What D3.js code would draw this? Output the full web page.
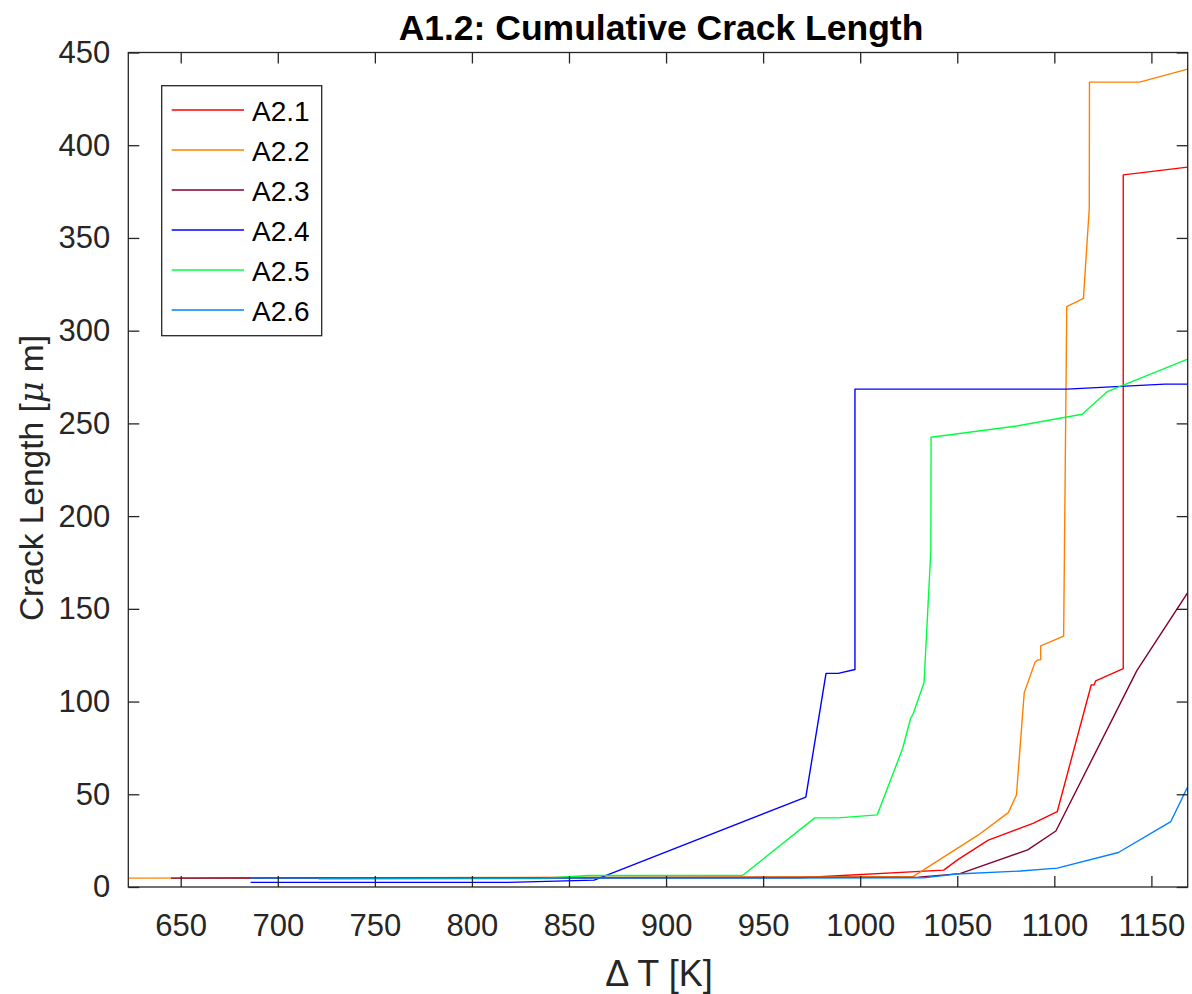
<!DOCTYPE html>
<html>
<head>
<meta charset="utf-8">
<script src="https://cdn.jsdelivr.net/npm/d3@7"></script>
<style>
  html, body { margin: 0; padding: 0; background: #fff; }
  svg { display: block; font-family: "Liberation Sans", Arial, Helvetica, sans-serif; }
</style>
</head>
<body>
<svg id="chart" width="1192" height="994"></svg>
<script>
// ---- data ----
const seriesNames = ["A2.1", "A2.2", "A2.3", "A2.4", "A2.5", "A2.6"];
const seriesColors = ["#ff0000", "#ff8000", "#800033", "#0000ff", "#00ff40", "#0080ff"];

const a21_T = [686, 969, 1043, 1050.5, 1066, 1089, 1101.5, 1119, 1120.5, 1121.3, 1135.5, 1135.5, 1168.7];
const a21_L = [4.8, 5.0, 9.1, 14.9, 25.3, 34.3, 40.6, 108.9, 109, 111.2, 117.8, 384, 388.2];

const a22_T = [623, 1027, 1060.5, 1076.3, 1080.5, 1084.5, 1090, 1091.4, 1093, 1093, 1104.8, 1106.4, 1115, 1118, 1118.1, 1143.9, 1168.7];
const a22_L = [4.8, 5.5, 27.8, 40.1, 49.6, 104.8, 121, 122.4, 122.6, 130, 135.3, 312.9, 317.4, 366, 434, 434, 441];

const a23_T = [645, 1030, 1051.4, 1086.3, 1100.8, 1142.5, 1168.7];
const a23_L = [4.8, 5.3, 7.2, 20, 30.2, 116.7, 158.7];

const a24_T = [686, 818, 863, 972, 982.4, 988.7, 997.3, 997.3, 1106.4, 1157, 1168.7];
const a24_L = [2.5, 2.5, 3.7, 48.5, 115.2, 115.2, 117.3, 268.5, 268.5, 271.2, 271.2];

const a25_T = [721, 835, 860, 939.5, 976.6, 988.5, 1008.8, 1021.9, 1026, 1027.4, 1032.9, 1036.4, 1036.5, 1080.6, 1114.3, 1127.2, 1168.7];
const a25_L = [4.3, 4.6, 6.2, 6.3, 37.3, 37.3, 38.9, 74.8, 91, 93.7, 110.3, 181.7, 242.5, 248.6, 254.9, 267.1, 284.6];

const a26_T = [686, 1032.6, 1049.7, 1082.6, 1101.5, 1133, 1160, 1168.7];
const a26_L = [4.8, 4.9, 7.0, 8.6, 10.2, 18.6, 35.3, 54];

const xTicks = [650, 700, 750, 800, 850, 900, 950, 1000, 1050, 1100, 1150];
const yTicks = [0, 50, 100, 150, 200, 250, 300, 350, 400, 450];
const xDomain = [623, 1168.7];
const yDomain = [0, 450];

const titleText = "A1.2: Cumulative Crack Length";
const xLabelText = "\u0394 T [K]";

// ---- layout ----
const svg = d3.select("#chart");
const plot = { left: 128.3, right: 1187.7, top: 52.5, bottom: 887 };
const axisColor = "#262626";

const x = d3.scaleLinear().domain(xDomain).range([plot.left, plot.right]);
const y = d3.scaleLinear().domain(yDomain).range([plot.bottom, plot.top]);

const allT = [a21_T, a22_T, a23_T, a24_T, a25_T, a26_T];
const allL = [a21_L, a22_L, a23_L, a24_L, a25_L, a26_L];
const series = seriesNames.map((n, i) => ({
  name: n, color: seriesColors[i],
  pts: allT[i].map((t, j) => [t, allL[i][j]])
}));

svg.append("defs").append("clipPath").attr("id", "clip")
  .append("rect")
  .attr("x", plot.left).attr("y", plot.top)
  .attr("width", plot.right - plot.left).attr("height", plot.bottom - plot.top);

// lines
const line = d3.line().x(d => x(d[0])).y(d => y(d[1]));
svg.append("g").attr("clip-path", "url(#clip)")
  .selectAll("path").data(series).join("path")
  .attr("d", d => line(d.pts))
  .attr("fill", "none")
  .attr("stroke", d => d.color)
  .attr("stroke-width", 1.4)
  .attr("stroke-linejoin", "round");

// axes
const tickLen = 11;
const fmt = d3.format("d");
function styleAxis(g) {
  g.select(".domain").remove();
  g.selectAll(".tick line").attr("stroke", axisColor).attr("stroke-width", 1.3);
  g.selectAll(".tick text").attr("fill", axisColor).style("font-size", "31px");
}
svg.append("g").attr("transform", `translate(0,${plot.bottom})`)
  .call(d3.axisBottom(x).tickValues(xTicks).tickFormat(fmt).tickSizeInner(-tickLen).tickSizeOuter(0).tickPadding(27))
  .call(styleAxis);
svg.append("g").attr("transform", `translate(0,${plot.top})`)
  .call(d3.axisTop(x).tickValues(xTicks).tickSizeInner(-tickLen).tickSizeOuter(0).tickFormat(""))
  .call(styleAxis);
svg.append("g").attr("transform", `translate(${plot.left},0)`)
  .call(d3.axisLeft(y).tickValues(yTicks).tickFormat(fmt).tickSizeInner(-tickLen).tickSizeOuter(0).tickPadding(18))
  .call(styleAxis);
svg.append("g").attr("transform", `translate(${plot.right},0)`)
  .call(d3.axisRight(y).tickValues(yTicks).tickSizeInner(-tickLen).tickSizeOuter(0).tickFormat(""))
  .call(styleAxis);

// box
svg.append("rect")
  .attr("x", plot.left).attr("y", plot.top)
  .attr("width", plot.right - plot.left).attr("height", plot.bottom - plot.top)
  .attr("fill", "none").attr("stroke", axisColor).attr("stroke-width", 1.3);

// title
svg.append("text")
  .attr("x", 661).attr("y", 40)
  .attr("text-anchor", "middle")
  .style("font-size", "35.5px").style("font-weight", "bold")
  .attr("fill", "#000")
  .text(titleText);

// x label
svg.append("text")
  .attr("x", 659).attr("y", 986)
  .attr("text-anchor", "middle")
  .style("font-size", "36px")
  .attr("fill", axisColor)
  .text(xLabelText);

// y label
const yl = svg.append("text")
  .attr("transform", `translate(43,478) rotate(-90)`)
  .attr("text-anchor", "middle")
  .style("font-size", "33.5px")
  .attr("fill", axisColor);
yl.append("tspan").text("Crack Length [");
yl.append("tspan").style("font-style", "italic").style("font-family", "'DejaVu Serif', 'Liberation Serif', serif").text("\u03bc");
yl.append("tspan").text(" m]");

// legend
const lg = { x: 161.7, y: 85.7, w: 160, h: 250, row0: 110, rowStep: 40 };
svg.append("rect")
  .attr("x", lg.x).attr("y", lg.y).attr("width", lg.w).attr("height", lg.h)
  .attr("fill", "#fff").attr("stroke", axisColor).attr("stroke-width", 1.3);
const items = svg.append("g").selectAll("g").data(series).join("g")
  .attr("transform", (d, i) => `translate(0,${lg.row0 + i * lg.rowStep})`);
items.append("line")
  .attr("x1", 171.7).attr("x2", 244).attr("y1", 0).attr("y2", 0)
  .attr("stroke", d => d.color).attr("stroke-width", 1.4);
items.append("text")
  .attr("x", 252).attr("y", 10.5)
  .style("font-size", "28px").attr("fill", "#000")
  .text(d => d.name);
</script>
</body>
</html>
